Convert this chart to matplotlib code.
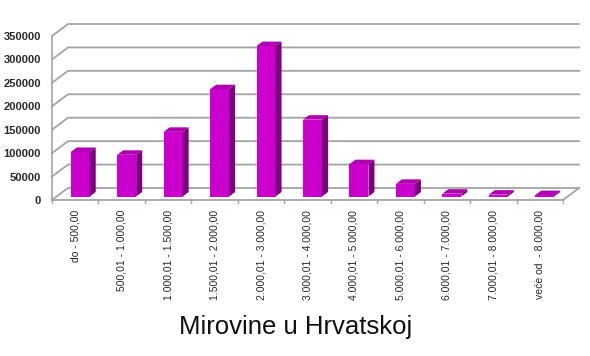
import matplotlib
matplotlib.use("Agg")
import matplotlib.pyplot as plt
from matplotlib.patches import Polygon

plt.rcParams['font.family'] = ['Liberation Sans', 'DejaVu Sans']

categories = ["do - 500,00", "500,01 - 1.000,00", "1.000,01 - 1.500,00",
              "1.500,01 - 2.000,00", "2.000,01 - 3.000,00", "3.000,01 - 4.000,00",
              "4.000,01 - 5.000,00", "5.000,01 - 6.000,00", "6.000,01 - 7.000,00",
              "7.000,01 - 8.000,00", "veće od  - 8.000,00"]
values = [95000, 89000, 138000, 229000, 321000, 164000, 69000, 27000, 6000, 4000, 3000]
yticks = [0, 50000, 100000, 150000, 200000, 250000, 300000, 350000]

W, H, DPI = 590, 356, 100
fig = plt.figure(figsize=(W / DPI, H / DPI), dpi=DPI)
ax = fig.add_axes([52 / W, (H - 200) / H, (563 - 52) / W, (200 - 36) / H])
n = len(categories)
ax.set_xlim(-0.5, n - 0.5)
ax.set_ylim(0, 350000)

# pixel -> data conversion
px_x = n / (563 - 52)
px_y = 350000 / (200 - 36)

grid_col = "#a4a4a4"
dxw, dyw = 16 * px_x, 12 * px_y  # floor depth

# back wall gridlines with slanted side edge
for v in yticks:
    ax.plot([-0.5, -0.5 + dxw, n - 0.5 + dxw], [v, v + dyw, v + dyw],
            color=grid_col, lw=1.3, clip_on=False, zorder=1)
# floor
ax.plot([-0.5, n - 0.5, n - 0.5 + dxw], [0, 0, dyw], color=grid_col, lw=1.3,
        clip_on=False, zorder=1)
# left axis line
ax.plot([-0.5, -0.5], [0, 350000], color=grid_col, lw=1.2, clip_on=False, zorder=1)
# ticks on floor edge
for k in range(n + 1):
    ax.plot([k - 0.5, k - 0.5], [0, -3 * px_y], color=grid_col, lw=1.0,
            clip_on=False, zorder=1)

# bars: front faces offset to mid depth, plus top and side faces
bw = 19 * px_x
ox, oy = 5 * px_x, 3.5 * px_y
bdx, bdy = 6 * px_x, 4.5 * px_y
xs = list(range(n))
ax.bar([x + ox for x in xs], values, width=bw, bottom=oy, color="#cc00cc",
       edgecolor="none", zorder=3)
for x, v in zip(xs, values):
    l = x + ox - bw / 2
    r = x + ox + bw / 2
    t = v + oy
    top = Polygon([(l, t), (r, t), (r + bdx, t + bdy), (l + bdx, t + bdy)],
                  closed=True, facecolor="#b000b0", edgecolor="none", zorder=3,
                  clip_on=False)
    side = Polygon([(r, oy), (r, t), (r + bdx, t + bdy), (r + bdx, oy + bdy)],
                   closed=True, facecolor="#7e007e", edgecolor="none", zorder=3,
                   clip_on=False)
    ax.add_patch(top)
    ax.add_patch(side)

for s in ax.spines.values():
    s.set_visible(False)
ax.set_yticks(yticks)
ax.set_yticklabels([str(v) for v in yticks], fontsize=8, color="#2a2a2a",
                   fontweight="bold")
ax.tick_params(axis="y", length=0, pad=8)
ax.set_xticks(xs)
ax.set_xticklabels(categories, rotation=90, fontsize=7.5, color="#262626", va="top")
ax.tick_params(axis="x", length=0, pad=7)

fig.text(296 / W, (H - 327) / H, "Mirovine u Hrvatskoj", ha="center", va="center",
         fontsize=18.5, color="#111111")

fig.savefig("out.png", dpi=DPI)
